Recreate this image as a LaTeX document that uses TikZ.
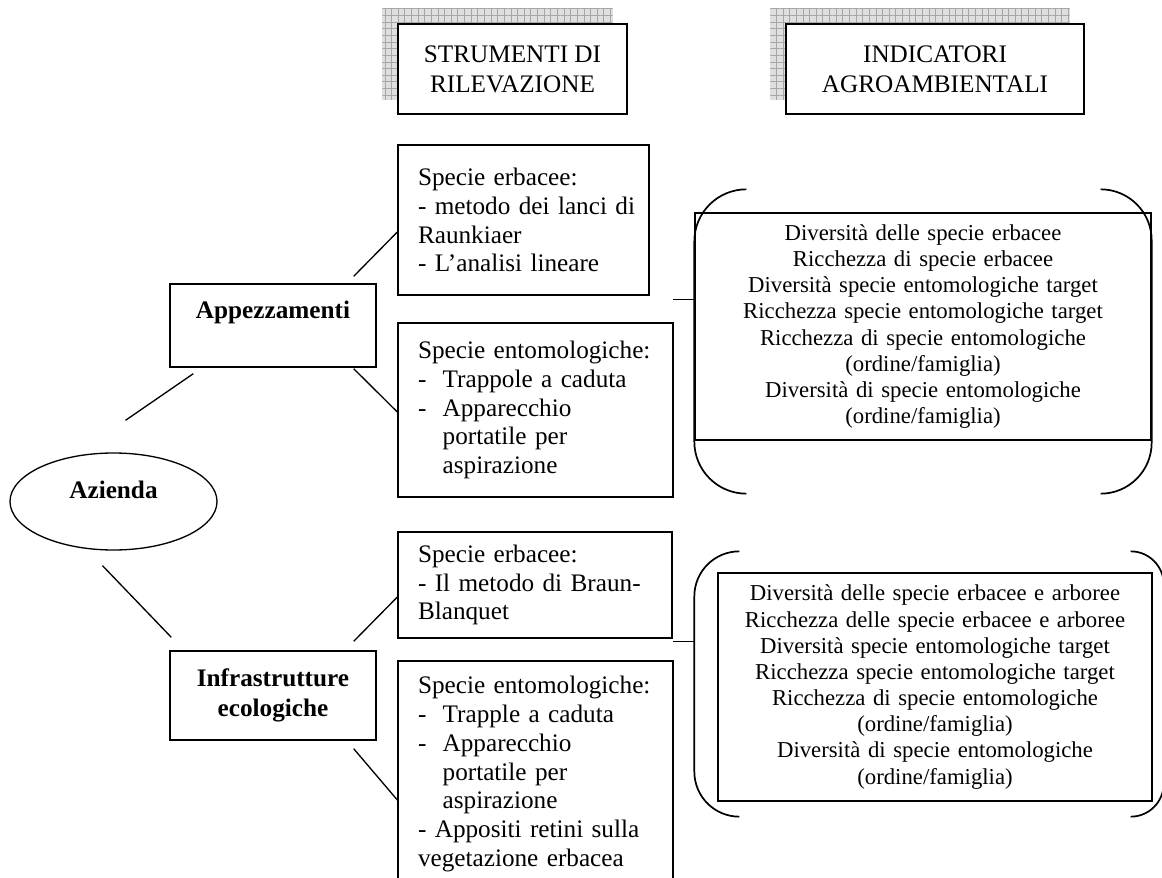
\documentclass[tikz,border=0pt]{standalone}
\usepackage{fontspec}
\setmainfont{Liberation Serif}
\usetikzlibrary{
	backgrounds,
	calc,
	patterns.meta,
	positioning,
	shapes.geometric,
}
\newlength{\pxu}
\setlength{\pxu}{0.5275pt}
\newcommand{\itm}{\makebox[13pt][l]{-}}
\newcommand{\itmcont}{\hspace*{13pt}}
\newcommand{\fullline}[1]{\makebox[\hsize][s]{#1}}
\tikzset{box/.style={
	draw,
	rectangle,
	line width=0.7pt,
	fill=white,
	inner xsep=20\pxu,
	inner ysep=0pt,
	align=left,
	font=\fontsize{13.3}{15.2}\selectfont,
}}
\tikzset{head box/.style={
	box,
	align=center,
	inner xsep=0pt,
	font=\fontsize{13.3}{15.8}\selectfont,
}}
\tikzset{key box/.style={
	box,
	align=center,
	inner xsep=0pt,
	font=\fontsize{13.3}{15.8}\selectfont\bfseries,
}}
\tikzset{indicator box/.style={
	box,
	align=center,
	font=\fontsize{12}{13.8}\selectfont,
}}
\tikzset{shadow/.style={
	fill=gray!25,
	postaction={pattern={Hatch[angle=0,distance=3.5pt,line width=0.35pt]}, pattern color=gray!70},
}}
\tikzset{link/.style={
	line width=0.7pt,
}}
\tikzset{bracket/.style={
	line width=0.9pt,
}}

\begin{document}
\begin{tikzpicture}[x=\pxu, y=-\pxu]
\useasboundingbox (0,0) rectangle (1162,878);
\clip (0,0) rectangle (1162,878);

% headers
\node[head box, minimum width=229\pxu, minimum height=90\pxu] (hstr) at (512.5,69) {STRUMENTI DI\\RILEVAZIONE};
\node[head box, minimum width=298\pxu, minimum height=90\pxu] (hind) at (935,69) {INDICATORI\\AGROAMBIENTALI};

\begin{scope}[on background layer]
\path[shadow] ($(hstr.north west)+(-15,-15)$) rectangle ($(hstr.south east)+(-15,-15)$);
\path[shadow] ($(hind.north west)+(-15,-15)$) rectangle ($(hind.south east)+(-15,-15)$);
\end{scope}

% left side
\node[draw, ellipse, line width=0.7pt, inner sep=0pt, minimum width=207\pxu, minimum height=97\pxu,
	font=\fontsize{13.3}{15.8}\selectfont\bfseries] (az) at (113.5,501.5) {\raisebox{6pt}[\height][\depth]{Azienda}};

\node[key box, minimum width=206\pxu, minimum height=83\pxu] (app) at (273,325.5) {\raisebox{7pt}[\height][\depth]{Appezzamenti}};
\node[key box, minimum width=206\pxu, minimum height=89\pxu] (infra) at (273,695.5) {Infrastrutture\\ecologiche};

% tools
\node[box, text width=211\pxu, minimum height=150\pxu] (erb1) at (523.5,220) {Specie erbacee:\\\mbox{- metodo dei lanci di}\\Raunkiaer\\- L’analisi lineare};
\node[box, text width=235\pxu, minimum height=174\pxu] (ent1) at (535.5,410) {Specie entomologiche:\\\itm Trappole a caduta\\\itm Apparecchio\\\itmcont portatile per\\\itmcont aspirazione};
\node[box, text width=234\pxu, minimum height=106\pxu] (erb2) at (535,585) {Specie erbacee:\\\fullline{- Il metodo di Braun-}\\Blanquet};
\node[box, text width=235\pxu, minimum height=226\pxu] (ent2) at (535.5,774) {Specie entomologiche:\\\itm Trapple a caduta\\\itm Apparecchio\\\itmcont portatile per\\\itmcont aspirazione\\\fullline{- Appositi retini sulla}\\vegetazione erbacea};

% indicators
\node[indicator box, text width=416\pxu, minimum height=227\pxu] (ind1) at (923,326.5) {Diversità delle specie erbacee\\Ricchezza di specie erbacee\\Diversità specie entomologiche target\\Ricchezza specie entomologiche target\\Ricchezza di specie entomologiche\\(ordine/famiglia)\\Diversità di specie entomologiche\\(ordine/famiglia)};
\node[indicator box, text width=394\pxu, minimum height=228\pxu] (ind2) at (935,687) {Diversità delle specie erbacee e arboree\\Ricchezza delle specie erbacee e arboree\\Diversità specie entomologiche target\\Ricchezza specie entomologiche target\\Ricchezza di specie entomologiche\\(ordine/famiglia)\\Diversità di specie entomologiche\\(ordine/famiglia)};

% Azienda -> Appezzamenti, Infrastrutture
\draw[link] ($(az.north)+(12,-32)$) -- ($(app.south west)+(24,6)$);
\draw[link] ($(az.south)+(-11,15)$) -- ($(infra.north west)+(2,-13)$);

% Appezzamenti -> tools
\draw[link] ($(app.north east)+(-23,-7)$) -- ($(erb1.west)+(0,12)$);
\draw[link] ($(app.south east)+(-23,1)$) -- ($(ent1.west)+(0,2)$);

% Infrastrutture -> tools
\draw[link] ($(infra.north east)+(-23,-9)$) -- ($(erb2.west)+(0,12)$);
\draw[link] ($(infra.south east)+(-23,8)$) -- ($(ent2.west)+(0,26)$);

% brackets
\draw[bracket, rounded corners=52\pxu] ($(ind1.north west)+(52,-23)$) -- ($(ind1.north west)+(0,-23)$) -- ($(ind1.south west)+(0,53)$) -- ($(ind1.south west)+(52,53)$);
\draw[bracket, rounded corners=51\pxu] ($(ind1.north east)+(-51,-23)$) -- ($(ind1.north east)+(0,-23)$) -- ($(ind1.south east)+(0,53)$) -- ($(ind1.south east)+(-51,53)$);
\coordinate (br2) at ($(ind2.north west)+(-23,0)$);
\draw[bracket, rounded corners=45\pxu] ($(ind2.north west)+(22,-21)$) -- ($(ind2.north west)+(-23,-21)$) -- ($(ind2.south west)+(-23,15)$) -- ($(ind2.south west)+(22,15)$);
\draw[bracket, rounded corners=33\pxu] ($(ind2.north east)+(-22,-21)$) -- ($(ind2.north east)+(11,-21)$) -- ($(ind2.south east)+(11,15)$) -- ($(ind2.south east)+(-22,15)$);

% stubs
\coordinate (s1) at ($(ent1.north east)+(-1,-23)$);
\draw[link] (s1) -- (s1 -| ind1.west);
\coordinate (s2) at ($(erb2.south east)+(0,3)$);
\draw[link] (s2) -- (s2 -| br2);

\end{tikzpicture}
\end{document}
